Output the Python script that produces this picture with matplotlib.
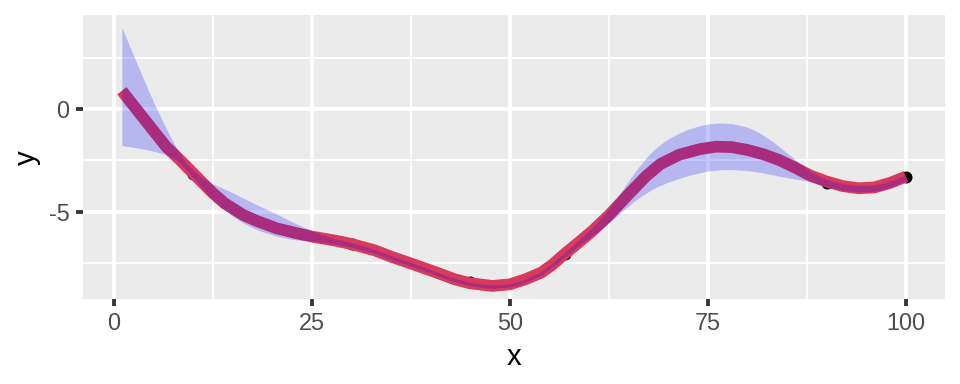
import matplotlib
matplotlib.use("Agg")
import matplotlib.pyplot as plt
import numpy as np

# raw points
pt_x = [10, 30, 45, 57, 90, 100]
pt_y = [-3.15, -6.6, -8.45, -7.05, -3.58, -3.3]

# red curve
line_x = [1, 4, 6.6, 8.4, 10, 12.5, 14, 16.3, 18, 20.5, 23, 25, 28, 30, 33, 35, 38,
          40.7, 43, 45, 47.8, 50, 52, 54, 55.4, 57, 58.8, 60.4, 62.5, 65, 67.2, 69,
          71.4, 74, 76, 78, 80, 82, 84, 86, 88, 90, 92, 94, 96, 98, 100]
line_y = [0.9, -0.57, -1.83, -2.5, -3.13, -4.10, -4.6, -5.16, -5.45, -5.81, -6.05,
          -6.22, -6.42, -6.58, -6.9, -7.2, -7.6, -7.97, -8.3, -8.5, -8.63, -8.55,
          -8.3, -7.97, -7.58, -7.04, -6.47, -5.95, -5.18, -4.15, -3.27, -2.68, -2.22,
          -1.95, -1.83, -1.85, -1.99, -2.2, -2.48, -2.85, -3.25, -3.53, -3.75,
          -3.86, -3.82, -3.6, -3.29]

# confidence band
band_x = [1, 2.5, 3.7, 5, 6.6, 7.9, 9, 10, 11, 12, 13.4, 15, 16.3, 17.5, 18.5, 20.5,
          22.5, 24.7, 26.3, 28, 30, 32.5, 35, 37.5, 40, 42.5, 45, 46.5, 48, 50,
          51.4, 52.5, 54, 56, 57.5, 59, 60, 61, 62, 63, 64, 65, 66, 67.2, 68, 69,
          70, 71.4, 72.5, 74, 75, 76.5, 78, 79.8, 81, 82, 83, 84, 85, 86, 87.4,
          88.5, 89.5, 91, 92.5, 94, 95.5, 97, 98.5, 100]
band_lo = [-1.78, -1.86, -1.94, -2.05, -2.22, -2.48, -2.9, -3.35, -3.8, -4.25, -4.76,
           -5.22, -5.55, -5.78, -5.95, -6.2, -6.36, -6.43, -6.48, -6.6, -6.73,
           -6.99, -7.33, -7.66, -8.0, -8.36, -8.62, -8.7, -8.75, -8.68, -8.54,
           -8.36, -8.09, -7.5, -7.03, -6.56, -6.28, -6.0, -5.7, -5.38, -5.05,
           -4.72, -4.4, -4.10, -3.9, -3.72, -3.56, -3.38, -3.24, -3.1, -3.02,
           -2.96, -2.95, -2.99, -3.05, -3.11, -3.19, -3.27, -3.34, -3.41, -3.5,
           -3.6, -3.72, -3.88, -3.98, -4.03, -4.03, -3.94, -3.75, -3.48]
band_hi = [4.0, 2.6, 1.5, 0.35, -0.95, -1.9, -2.55, -2.98, -3.3, -3.55, -3.8,
           -4.08, -4.33, -4.56, -4.75, -5.11, -5.5, -5.89, -6.12, -6.34, -6.51,
           -6.79, -7.15, -7.48, -7.84, -8.2, -8.46, -8.54, -8.59, -8.52, -8.38,
           -8.2, -7.91, -7.3, -6.81, -6.28, -5.92, -5.55, -5.1, -4.6, -4.05, -3.5,
           -2.95, -2.38, -2.05, -1.72, -1.45, -1.16, -0.98, -0.8, -0.72, -0.67,
           -0.7, -0.85, -1.05, -1.27, -1.53, -1.83, -2.14, -2.45, -2.88, -3.15,
           -3.35, -3.55, -3.67, -3.72, -3.72, -3.62, -3.45, -3.2]
band_breaks = [26.3, 51.4, 76.5]

x_ticks = [0, 25, 50, 75, 100]
y_ticks = [-5, 0]

plt.rcParams['font.family'] = ['Liberation Sans', 'DejaVu Sans']
plt.rcParams['axes.unicode_minus'] = False
fig = plt.figure(figsize=(5, 2), dpi=192)
ax = fig.add_axes([0.0861, 0.2206, 0.8983, 0.7404])
ax.set_facecolor('#EBEBEB')

ax.scatter(pt_x, pt_y, s=4.5**2, color='black', zorder=3, linewidths=0)
ax.plot(line_x, line_y, color='#D93A5B', lw=4.4, solid_capstyle='butt',
        solid_joinstyle='round', zorder=4)

bx = np.array(band_x)
lo = np.array(band_lo)
hi = np.array(band_hi)
edges = [bx[0]] + band_breaks + [bx[-1]]
for a, b in zip(edges[:-1], edges[1:]):
    m = (bx >= a) & (bx <= b)
    ax.fill_between(bx[m], lo[m], hi[m], color='#0000FF', alpha=0.22,
                    linewidth=0, zorder=5)

xmin, xmax = 1, 100
ymin, ymax = -8.65, 3.97
dx = (xmax - xmin) * 0.05
dy = (ymax - ymin) * 0.05
ax.set_xlim(xmin - dx, xmax + dx)
ax.set_ylim(ymin - dy, ymax + dy)

ax.set_xticks(x_ticks)
ax.set_yticks(y_ticks)
ax.set_xticks([12.5, 37.5, 62.5, 87.5], minor=True)
ax.set_yticks([-7.5, -2.5, 2.5], minor=True)
ax.grid(which='major', color='white', lw=1.42)
ax.grid(which='minor', color='white', lw=0.71)
ax.set_axisbelow(True)
for s in ax.spines.values():
    s.set_visible(False)
ax.tick_params(which='major', length=2.75, width=1.42, color='#333333',
               labelsize=8.8, labelcolor='#4D4D4D', pad=2.2)
ax.tick_params(which='minor', length=0)
ax.set_xlabel('x', fontsize=11, labelpad=2.75)
ax.set_ylabel('y', fontsize=11, labelpad=2.75)

fig.savefig('out.png', dpi=192)
